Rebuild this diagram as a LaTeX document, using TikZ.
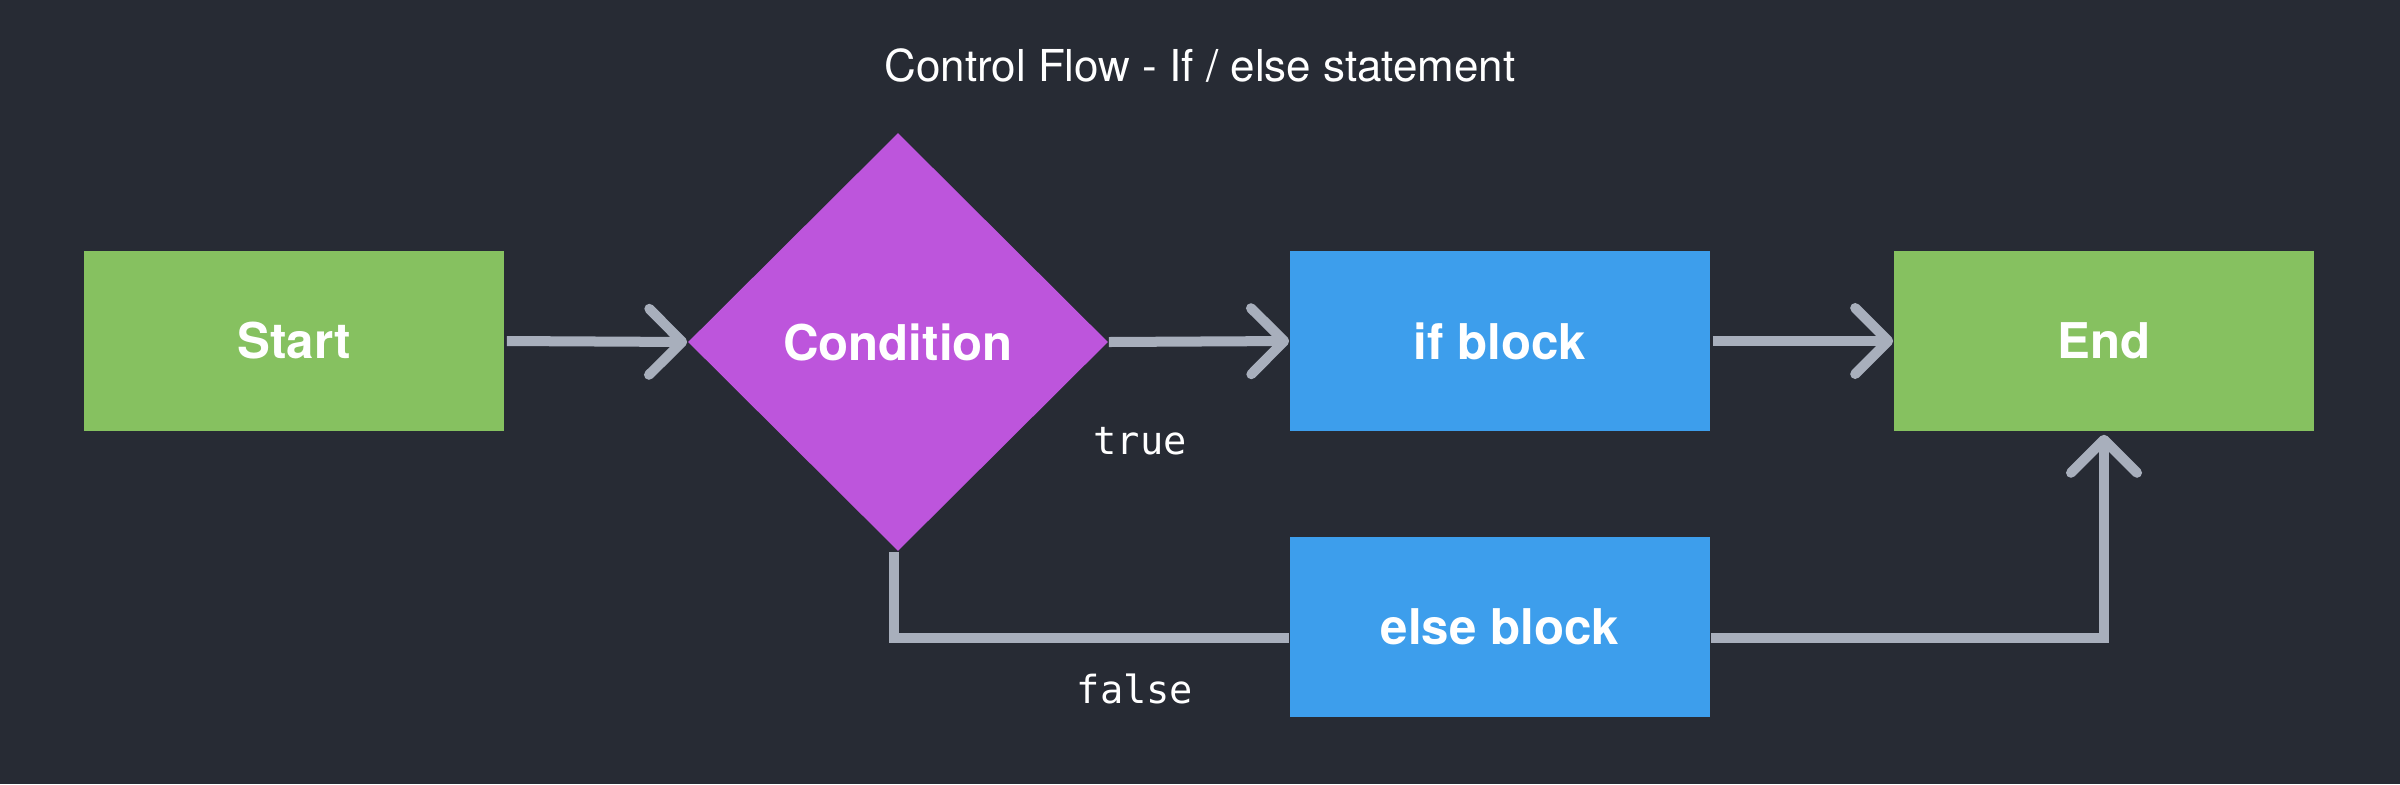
\documentclass[tikz,border=0pt]{standalone}
\usepackage{fontspec}
\setmainfont{TeX Gyre Heros}
\setmonofont{DejaVu Sans Mono}
\usetikzlibrary{shapes.geometric,arrows.meta}
\definecolor{bg}{HTML}{272B34}
\definecolor{grn}{HTML}{86C160}
\definecolor{pur}{HTML}{BD55DC}
\definecolor{blu}{HTML}{3D9EEC}
\definecolor{lin}{HTML}{A8AFBC}
\begin{document}
\begin{tikzpicture}[x=0.01cm,y=-0.01cm,
  boxnode/.style={rectangle,minimum width=4.2cm,minimum height=1.8cm,inner sep=0pt,text=white,font=\fontsize{14}{16}\selectfont\bfseries},
  decide/.style={diamond,minimum width=4.2cm,minimum height=4.18cm,inner sep=0pt,fill=pur,text=white,font=\fontsize{14}{16}\selectfont\bfseries},
  conn/.style={draw=lin,line width=1mm},
  arr/.style={conn,-{Straight Barb[length=3.3mm,width=6.6mm,line cap=round,round]}},
  lbl/.style={text=white,font=\fontsize{11}{13}\selectfont\ttfamily},
  ttl/.style={text=white,font=\fontsize{12.5}{14}\selectfont}]
\fill[bg] (0,0) rectangle (2400,784);
\useasboundingbox (0,0) rectangle (2400,784);
\node[ttl] (title) at (1200,66) {Control Flow - If / else statement};
\node[boxnode,fill=grn] (start) at (294,341) {Start};
\node[decide] (cond) at (898,342) {Condition};
\node[boxnode,fill=blu] (ifb) at (1500,341) {if block};
\node[boxnode,fill=grn] (end) at (2104,341) {End};
\node[boxnode,fill=blu] (elseb) at (1500,627) {else block};
\draw[arr] ([xshift=0.02cm]start.east) -- (cond.west);
\draw[arr] (cond.east) -- (ifb.west);
\draw[arr] ([xshift=0.02cm]ifb.east) -- (end.west);
\draw[conn] ([xshift=-0.04cm]cond.south) |- ([yshift=-0.11cm]elseb.west);
\draw[arr] ([yshift=-0.11cm]elseb.east) -| ([yshift=-0.03cm]end.south);
\node[lbl] (ltrue) at (1140,441) {true};
\node[lbl] (lfalse) at (1135,689) {false};
\end{tikzpicture}
\end{document}
